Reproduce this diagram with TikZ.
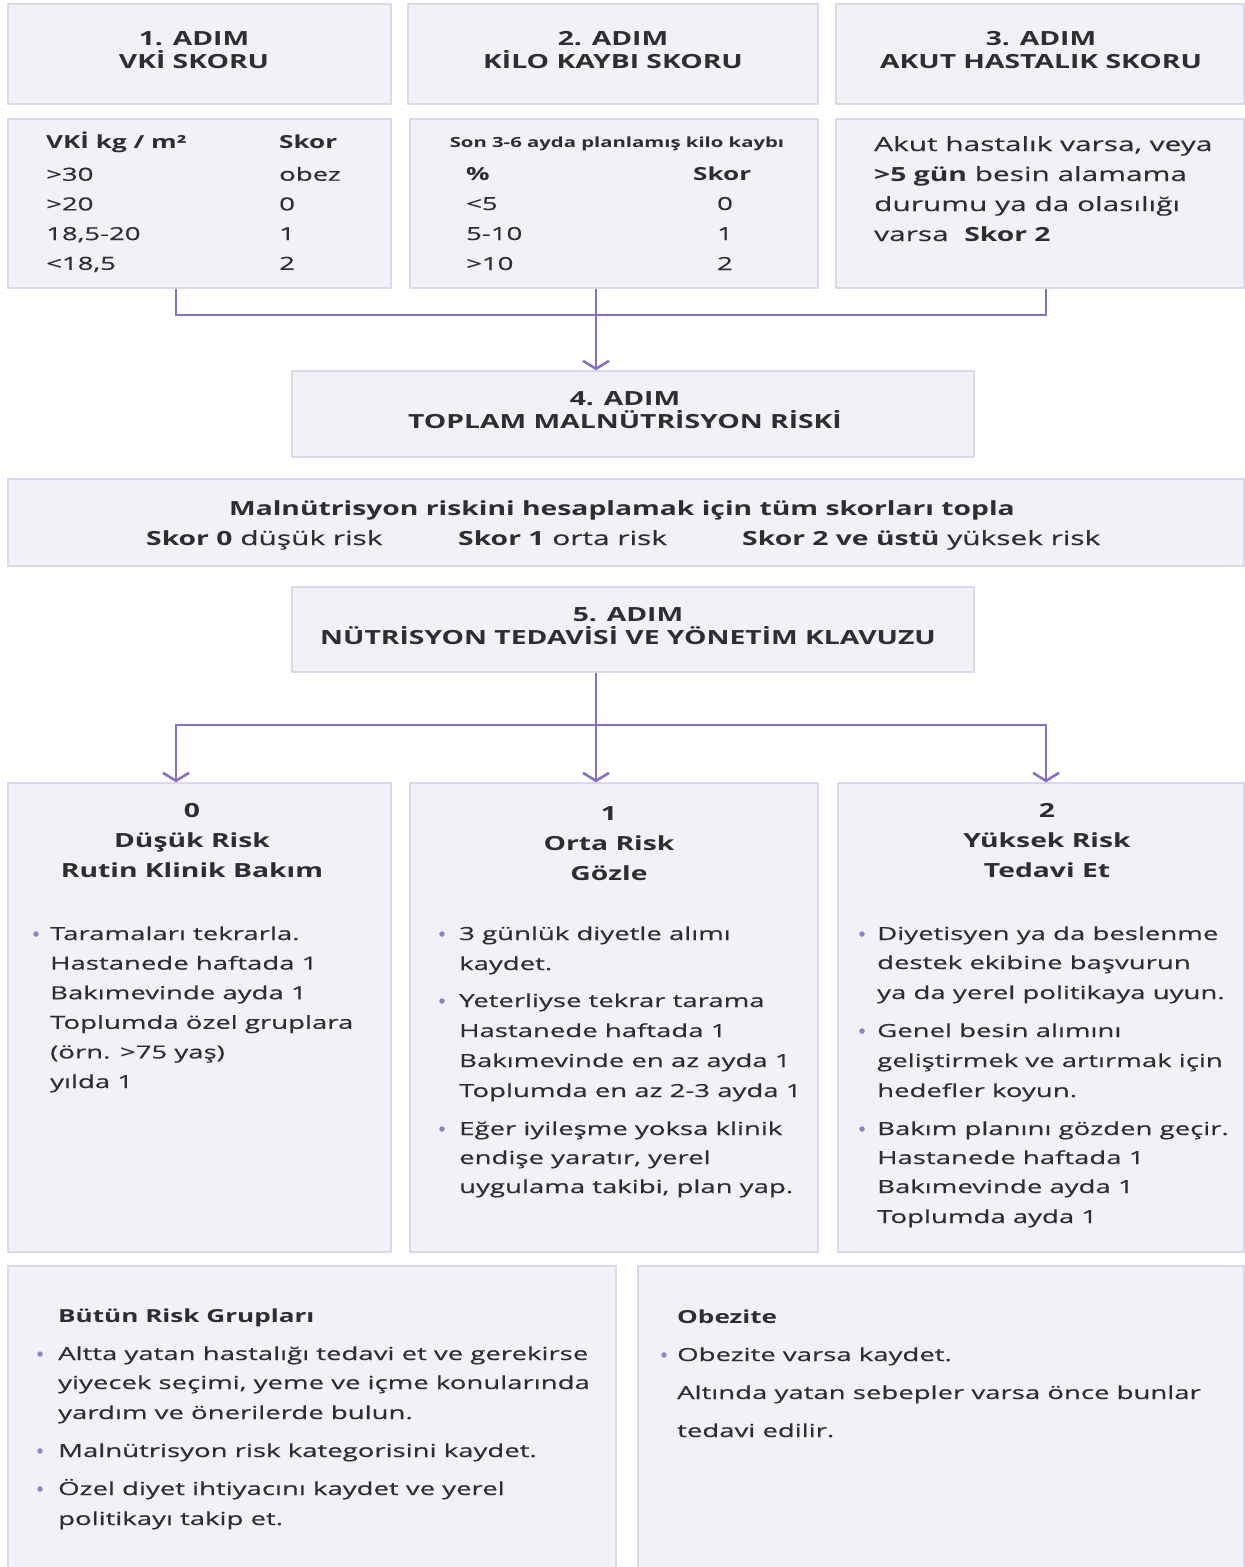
\documentclass[tikz,border=0pt]{standalone}
\usepackage{fontspec}
\setmainfont{Open Sans}[UprightFeatures={FakeStretch=1.53,FakeBold=0.5},BoldFeatures={FakeStretch=1.45}]
\usetikzlibrary{arrows.meta}
\definecolor{boxfill}{HTML}{F3F1F8}
\definecolor{boxline}{HTML}{DCD7EC}
\definecolor{purp}{HTML}{8B6FBF}
\definecolor{dotc}{HTML}{9480C4}
\definecolor{ink}{HTML}{2E2E2E}
\begin{document}
\begin{tikzpicture}[x=1pt,y=-1pt,
  box/.style={draw=boxline,fill=boxfill,line width=1.3pt,inner sep=0pt},
  conn/.style={draw=purp,line width=2.8pt},
  arr/.style={conn,-{Straight Barb[length=8pt,width=26pt,line width=2.6pt]}},
  hd/.style={text=ink,font=\fontsize{19.5}{23}\bfseries\selectfont,inner sep=0pt,anchor=base},
  body/.style={text=ink,font=\fontsize{18}{22}\selectfont,inner sep=0pt,anchor=base west},
  bodyb/.style={text=ink,font=\fontsize{18}{22}\bfseries\selectfont,inner sep=0pt,anchor=base west},
  bodyc/.style={body,anchor=base},
  big/.style={body,font=\fontsize{19.5}{23}\selectfont},
  bul/.style={circle,fill=dotc,inner sep=0pt,minimum size=5.5pt}]
\useasboundingbox (0,0) rectangle (1245,1567);
\clip (0,0) rectangle (1245,1567);
% ---- boxes
\node[box,minimum width=383pt,minimum height=100pt] (h1) at (199.5,54) {};
\node[box,minimum width=410pt,minimum height=100pt] (h2) at (613,54) {};
\node[box,minimum width=408pt,minimum height=100pt] (h3) at (1040,54) {};
\node[box,minimum width=383pt,minimum height=169pt] (v1) at (199.5,203.5) {};
\node[box,minimum width=408pt,minimum height=169pt] (v2) at (614,203.5) {};
\node[box,minimum width=408pt,minimum height=169pt] (v3) at (1040,203.5) {};
\node[box,minimum width=682pt,minimum height=86pt] (s4) at (633,414) {};
\node[box,minimum width=1236pt,minimum height=87pt] (mid) at (626,522.5) {};
\node[box,minimum width=682pt,minimum height=85pt] (s5) at (633,629.5) {};
\node[box,minimum width=383pt,minimum height=469pt] (r0) at (199.5,1017.5) {};
\node[box,minimum width=408pt,minimum height=469pt] (r1) at (614,1017.5) {};
\node[box,minimum width=406pt,minimum height=469pt] (r2) at (1041,1017.5) {};
\node[box,minimum width=608pt,minimum height=314pt] (b1) at (312,1423) {};
\node[box,minimum width=606pt,minimum height=314pt] (b2) at (941,1423) {};
% ---- connectors
\coordinate (j1) at (176,315);
\coordinate (j2) at (596,315);
\coordinate (j3) at (1046,315);
\draw[conn] (v1.south -| j1) |- (j2) -| (v3.south -| j3);
\draw[arr] (v2.south -| j2) -- (s4.north -| j2);
\coordinate (k1) at (176,725);
\coordinate (k2) at (596,725);
\coordinate (k3) at (1046,725);
\draw[arr] (k2) -| (r0.north -| k1);
\draw[arr] (k2) -| (r2.north -| k3);
\draw[arr] (s5.south -| k2) -- (r1.north -| k2);
% ---- step headers
\node[hd] (h1a) at (194,45) {1. ADIM};
\node[hd] (h1b) at (194,68) {VKİ SKORU};
\node[hd] (h2a) at (613,45) {2. ADIM};
\node[hd] (h2b) at (613,68) {KİLO KAYBI SKORU};
\node[hd] (h3a) at (1041,45) {3. ADIM};
\node[hd] (h3b) at (1041,68) {AKUT HASTALIK SKORU};
% ---- BMI table
\node[bodyb] (t1h) at (46,148) {VKİ kg / m²};
\node[bodyb] (t1s) at (279,148) {Skor};
\foreach \a/\b [count=\i] in {>30/obez,>20/0,{18,5-20}/1,{<18,5}/2}{
  \node[body] (t1a\i) at (46,{151+29.7*\i}) {\a};
  \node[body] (t1b\i) at (279,{151+29.7*\i}) {\b};
}
% ---- weight loss table
\node[text=ink,font=\fontsize{14}{16}\bfseries\selectfont,inner sep=0pt,anchor=base] (t2t) at (617,147) {Son 3-6 ayda planlamış kilo kaybı};
\node[bodyb] (t2h) at (466,180) {\%};
\node[bodyb] (t2s) at (693,180) {Skor};
\foreach \a/\b [count=\i] in {<5/0,5-10/1,>10/2}{
  \node[body] (t2a\i) at (466,{180+30*\i}) {\a};
  \node[bodyc] (t2b\i) at (725,{180+30*\i}) {\b};
}
% ---- acute disease
\node[big] (t3a) at (874,151) {Akut hastalık varsa, veya};
\node[big] (t3b) at (874,181) {\textbf{>5 gün} besin alamama};
\node[big] (t3c) at (874,211) {durumu ya da olasılığı};
\node[big] (t3d) at (874,241) {varsa\ \ \textbf{Skor 2}};
% ---- step 4
\node[hd] (s4a) at (625,405) {4. ADIM};
\node[hd] (s4b) at (625,428) {TOPLAM MALNÜTRİSYON RİSKİ};
% ---- middle
\node[hd] (m1) at (622,515) {Malnütrisyon riskini hesaplamak için tüm skorları topla};
\node[big] (m2) at (146,545) {\textbf{Skor 0} düşük risk};
\node[big] (m3) at (458,545) {\textbf{Skor 1} orta risk};
\node[big] (m4) at (742,545) {\textbf{Skor 2 ve üstü} yüksek risk};
% ---- step 5
\node[hd] (s5a) at (628,621) {5. ADIM};
\node[hd] (s5b) at (628,644) {NÜTRİSYON TEDAVİSİ VE YÖNETİM KLAVUZU};
% ---- risk headings
\node[hd] (r0a) at (192,817) {0};
\node[hd] (r0b) at (192,847) {Düşük Risk};
\node[hd] (r0c) at (192,877) {Rutin Klinik Bakım};
\node[hd] (r1a) at (609,820) {1};
\node[hd] (r1b) at (609,850) {Orta Risk};
\node[hd] (r1c) at (609,880) {Gözle};
\node[hd] (r2a) at (1047,817) {2};
\node[hd] (r2b) at (1047,847) {Yüksek Risk};
\node[hd] (r2c) at (1047,877) {Tedavi Et};
% ---- risk 0 list
\node[bul] (r0d1) at (36,934) {};
\foreach \t [count=\i from 0] in {Taramaları tekrarla.,Hastanede haftada 1,Bakımevinde ayda 1,Toplumda özel gruplara,(örn. >75 yaş),yılda 1}
  \node[body] (r0t\i) at (50,{940+29.6*\i}) {\t};
% ---- risk 1 list
\node[bul] (r1d1) at (442,934) {};
\node[bul] (r1d2) at (442,1001) {};
\node[bul] (r1d3) at (442,1129) {};
\foreach \t/\y [count=\i] in {3 günlük diyetle alımı/940,kaydet./970,Yeterliyse tekrar tarama/1007,Hastanede haftada 1/1037,Bakımevinde en az ayda 1/1067,Toplumda en az 2-3 ayda 1/1097,Eğer iyileşme yoksa klinik/1135,{endişe yaratır, yerel}/1164,{uygulama takibi, plan yap.}/1193}
  \node[body] (r1t\i) at (459,\y) {\t};
% ---- risk 2 list
\node[bul] (r2d1) at (862,934) {};
\node[bul] (r2d2) at (862,1031) {};
\node[bul] (r2d3) at (862,1129) {};
\foreach \t/\y [count=\i] in {Diyetisyen ya da beslenme/940,destek ekibine başvurun/969,ya da yerel politikaya uyun./999,Genel besin alımını/1037,geliştirmek ve artırmak için/1067,hedefler koyun./1097,Bakım planını gözden geçir./1135,Hastanede haftada 1/1164,Bakımevinde ayda 1/1193,Toplumda ayda 1/1223}
  \node[body] (r2t\i) at (877,\y) {\t};
% ---- all risk groups
\node[bodyb] (b1h) at (58,1322) {Bütün Risk Grupları};
\node[bul] (b1d1) at (40,1354) {};
\node[bul] (b1d2) at (40,1451) {};
\node[bul] (b1d3) at (40,1489) {};
\foreach \t/\y [count=\i] in {Altta yatan hastalığı tedavi et ve gerekirse/1360,{yiyecek seçimi, yeme ve içme konularında}/1389,yardım ve önerilerde bulun./1419,Malnütrisyon risk kategorisini kaydet./1457,Özel diyet ihtiyacını kaydet ve yerel/1495,politikayı takip et./1525}
  \node[body] (b1t\i) at (58,\y) {\t};
% ---- obesity
\node[bodyb] (b2h) at (677,1323) {Obezite};
\node[bul] (b2d1) at (664,1355) {};
\node[body] (b2t1) at (677,1361) {Obezite varsa kaydet.};
\node[body] (b2t2) at (677,1399) {Altında yatan sebepler varsa önce bunlar};
\node[body] (b2t3) at (677,1437) {tedavi edilir.};
\end{tikzpicture}
\end{document}
